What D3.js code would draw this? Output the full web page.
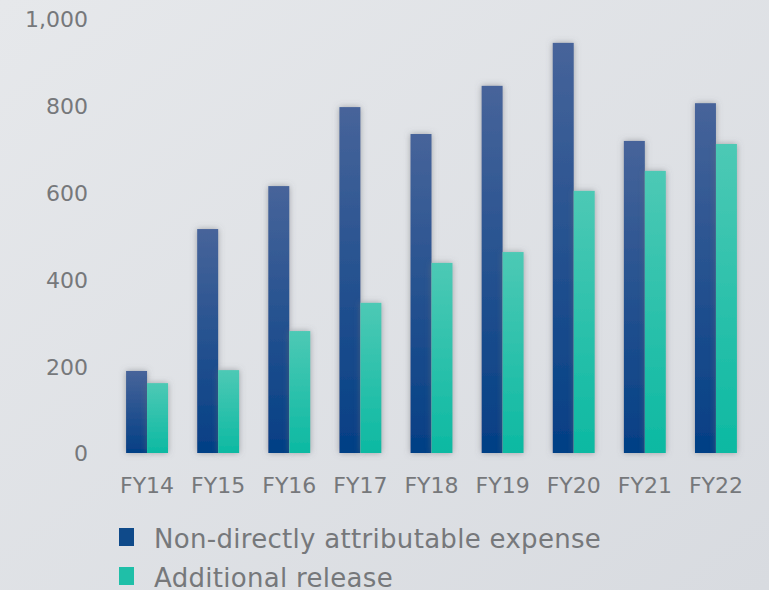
<!DOCTYPE html>
<html>
<head>
<meta charset="utf-8">
<script src="https://cdn.jsdelivr.net/npm/d3@7"></script>
<style>
  html, body { margin: 0; padding: 0; overflow: hidden; }
  svg { display: block; }
</style>
</head>
<body>
<script>
var width = 769;
var height = 590;
var fontFamily = "'DejaVu Sans', sans-serif";
var labelColor = "rgb(118,120,123)";

var categories = ["FY14", "FY15", "FY16", "FY17", "FY18", "FY19", "FY20", "FY21", "FY22"];
var expenseValues = [189, 516, 615, 797, 735, 846, 945, 719, 806];
var releaseValues = [161, 191, 281, 346, 438, 463, 604, 650, 712];
var seriesNames = ["Non-directly attributable expense", "Additional release"];
var yTicks = [0, 200, 400, 600, 800, 1000];

var svg = d3.select("body").append("svg")
  .attr("width", width)
  .attr("height", height);

var defs = svg.append("defs");

var bg = defs.append("linearGradient")
  .attr("id", "bg-grad")
  .attr("x1", 0).attr("y1", 0).attr("x2", 1).attr("y2", 1);
bg.append("stop").attr("offset", 0).attr("stop-color", "#e6e8eb");
bg.append("stop").attr("offset", 1).attr("stop-color", "#d8dbe0");

var addBarGradient = function(id, top, bottom) {
  var g = defs.append("linearGradient")
    .attr("id", id)
    .attr("x1", 0).attr("y1", 0).attr("x2", 0).attr("y2", 1);
  g.append("stop").attr("offset", 0).attr("stop-color", top);
  g.append("stop").attr("offset", 1).attr("stop-color", bottom);
};
addBarGradient("dark-grad", "#47649a", "#033f85");
addBarGradient("teal-grad", "#4dc9b5", "#0cb9a2");

var shadow = defs.append("filter")
  .attr("id", "bar-shadow")
  .attr("x", "-50%").attr("y", "-10%")
  .attr("width", "200%").attr("height", "120%");
shadow.append("feDropShadow")
  .attr("dx", 0).attr("dy", 0)
  .attr("stdDeviation", 3)
  .attr("flood-color", "#6a6d72")
  .attr("flood-opacity", 0.55);

var blur = defs.append("filter")
  .attr("id", "base-blur")
  .attr("x", "-20%").attr("y", "-200%")
  .attr("width", "140%").attr("height", "500%");
blur.append("feGaussianBlur").attr("stdDeviation", 1.2);

svg.append("rect")
  .attr("width", width)
  .attr("height", height)
  .attr("fill", "url(#bg-grad)");

var x = d3.scaleBand()
  .domain(categories)
  .range([111.5, 751.5])
  .paddingInner(0.41)
  .paddingOuter(0.205);

var y = d3.scaleLinear()
  .domain([0, 1000])
  .range([453, 19]);

var x1 = d3.scaleBand()
  .domain([0, 1])
  .range([0, x.bandwidth()]);

// shadow lines under each pair
svg.append("g").selectAll("line")
  .data(categories)
  .enter().append("line")
    .attr("x1", function(d) { return x(d) - 6; })
    .attr("x2", function(d) { return x(d) + x.bandwidth() + 6; })
    .attr("y1", y(0) + 2)
    .attr("y2", y(0) + 2)
    .attr("stroke", "#75787c")
    .attr("stroke-width", 1.5)
    .attr("filter", "url(#base-blur)");

var rows = categories.map(function(c, i) {
  return { cat: c, values: [expenseValues[i], releaseValues[i]] };
});

var groups = svg.append("g").selectAll("g")
  .data(rows)
  .enter().append("g")
    .attr("transform", function(d) { return "translate(" + x(d.cat) + ",0)"; });

groups.selectAll("rect")
  .data(function(d) { return d.values.map(function(v, k) { return { k: k, v: v }; }); })
  .enter().append("rect")
    .attr("x", function(d) { return x1(d.k); })
    .attr("y", function(d) { return y(d.v); })
    .attr("width", x1.bandwidth())
    .attr("height", function(d) { return y(0) - y(d.v); })
    .attr("fill", function(d) { return d.k === 0 ? "url(#dark-grad)" : "url(#teal-grad)"; })
    .attr("filter", "url(#bar-shadow)");

// y axis labels
var yAxis = svg.append("g")
  .attr("transform", "translate(88,0)")
  .call(d3.axisLeft(y).tickValues(yTicks).tickSize(0).tickPadding(0)
    .tickFormat(d3.format(",")));
yAxis.select(".domain").remove();
yAxis.selectAll("text")
  .attr("fill", labelColor)
  .attr("font-family", fontFamily)
  .attr("font-size", 22)
  .attr("dy", "0.36em");

// x axis labels
var xAxis = svg.append("g")
  .call(d3.axisBottom(x).tickSize(0).tickPadding(0));
xAxis.select(".domain").remove();
xAxis.selectAll("text")
  .attr("y", 493)
  .attr("dy", 0)
  .attr("fill", labelColor)
  .attr("font-family", fontFamily)
  .attr("font-size", 22);

// legend
var legend = svg.append("g").selectAll("g")
  .data(seriesNames)
  .enter().append("g")
    .attr("transform", function(d, i) { return "translate(119," + (528 + i * 39) + ")"; });
legend.append("rect")
  .attr("width", 15)
  .attr("height", 18)
  .attr("fill", function(d, i) { return i === 0 ? "#0f4a8a" : "#1fbfa8"; });
legend.append("text")
  .attr("x", 35)
  .attr("y", 20)
  .attr("fill", labelColor)
  .attr("font-family", fontFamily)
  .attr("font-size", 26)
  .attr("letter-spacing", 0.3)
  .text(function(d) { return d; });
</script>
</body>
</html>
